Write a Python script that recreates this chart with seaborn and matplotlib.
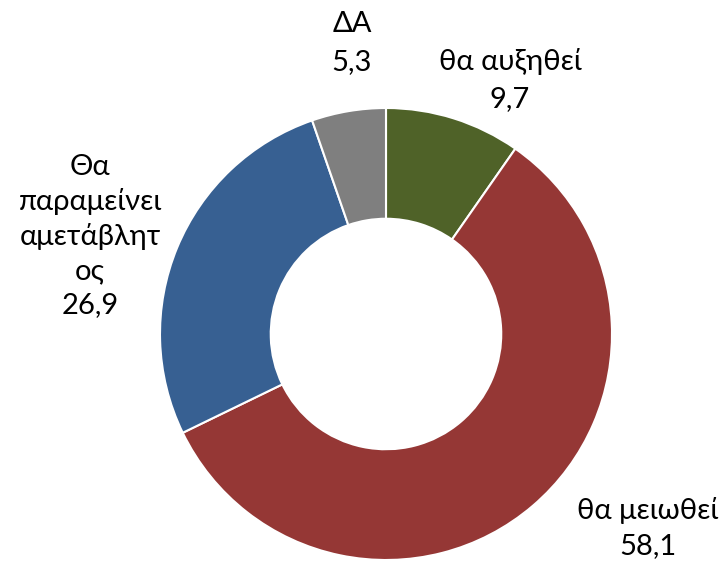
import matplotlib
matplotlib.use("Agg")
import matplotlib.pyplot as plt
import seaborn as sns

# data
categories = ["θα αυξηθεί", "θα μειωθεί", "Θα\nπαραμείνει\nαμετάβλητ\nος", "ΔΑ"]
values = [9.7, 58.1, 26.9, 5.3]
colors = ["#4F6228", "#953735", "#376092", "#7F7F7F"]

sns.set_theme(style="white")
plt.rcParams['font.family'] = ['Lato', 'Open Sans', 'DejaVu Sans']

W, H = 723, 562
fig = plt.figure(figsize=(W / 100, H / 100), dpi=100)
ax = fig.add_axes([0, 0, 1, 1])

cx, cy, r = 386, H - 334, 226
ax.pie(values, colors=colors, startangle=90, counterclock=False,
       center=(cx, cy), radius=r, frame=True,
       wedgeprops=dict(width=r * 0.49, edgecolor="white", linewidth=1.5))
ax.set_xlim(0, W)
ax.set_ylim(0, H)
ax.set_aspect("equal")
ax.axis("off")

# label positions in pixels (x, y from top)
label_pos = [(510, 80), (648, 528), (90, 236), (352, 43)]
spacing = [1.5, 1.4, 1.38, 1.6]
for cat, val, (lx, ly), ls in zip(categories, values, label_pos, spacing):
    txt = f"{cat}\n{val:.1f}".replace(".", ",")
    ax.text(lx, H - ly, txt, ha="center", va="center", fontsize=21,
            color="black", linespacing=ls)

fig.savefig("out.png", dpi=100, facecolor="white")
